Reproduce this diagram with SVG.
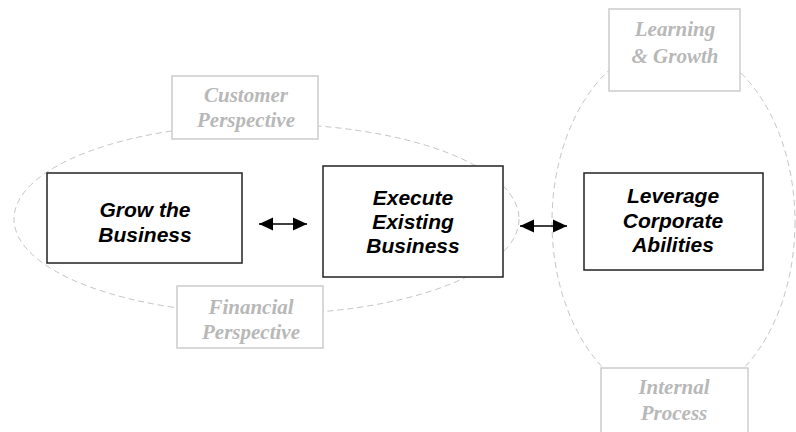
<svg xmlns="http://www.w3.org/2000/svg" width="796" height="432" viewBox="0 0 796 432">
<style>
.oval{fill:none;stroke:#c4c4c4;stroke-width:1;stroke-dasharray:6 4}
.pbox{fill:#fff;stroke:#cccccc;stroke-width:1.5}
.ptxt{font-family:"Liberation Serif","Times New Roman",serif;font-weight:bold;font-style:italic;font-size:21px;fill:#b8b8b8;text-anchor:middle}
.mbox{fill:#fff;stroke:#222;stroke-width:1.5}
.mtxt{font-family:"Liberation Sans",Arial,sans-serif;font-weight:bold;font-style:italic;font-size:21px;fill:#000;text-anchor:middle}
.conn{stroke:#000;stroke-width:1.5;fill:none}
</style>
<defs>
<marker id="ah" markerUnits="userSpaceOnUse" markerWidth="16" markerHeight="14" refX="14" refY="7" orient="auto-start-reverse">
<path d="M0,0.5 L14,7 L0,13.5 Z" fill="#000"/>
</marker>
</defs>
<g id="ovals">
<ellipse class="oval" cx="266.5" cy="219" rx="252.5" ry="95"/>
<ellipse class="oval" cx="673.5" cy="222" rx="121.5" ry="179"/>
</g>
<g id="customer"><rect class="pbox" x="172" y="76" width="146" height="63"/>
<text class="ptxt" x="246" y="102">Customer</text><text class="ptxt" x="246" y="127">Perspective</text></g>
<g id="financial"><rect class="pbox" x="177" y="286" width="146" height="62"/>
<text class="ptxt" x="251" y="314">Financial</text><text class="ptxt" x="251" y="339">Perspective</text></g>
<g id="learning"><rect class="pbox" x="609" y="9" width="131" height="82"/>
<text class="ptxt" x="675" y="36">Learning</text><text class="ptxt" x="675" y="63">&amp; Growth</text></g>
<g id="internal"><rect class="pbox" x="601" y="368" width="147" height="80"/>
<text class="ptxt" x="674" y="394">Internal</text><text class="ptxt" x="674" y="420">Process</text></g>
<g id="grow"><rect class="mbox" x="47" y="173" width="195" height="90"/>
<text class="mtxt" x="145" y="217">Grow the</text><text class="mtxt" x="145" y="242">Business</text></g>
<g id="execute"><rect class="mbox" x="323" y="166" width="180" height="111"/>
<text class="mtxt" x="413" y="205">Execute</text><text class="mtxt" x="413" y="229">Existing</text><text class="mtxt" x="413" y="253">Business</text></g>
<g id="leverage"><rect class="mbox" x="584" y="173" width="179" height="97"/>
<text class="mtxt" x="673" y="203">Leverage</text><text class="mtxt" x="673" y="228">Corporate</text><text class="mtxt" x="673" y="252">Abilities</text></g>
<g id="connectors">
<line class="conn" x1="259" y1="224" x2="307" y2="224" marker-start="url(#ah)" marker-end="url(#ah)"/>
<line class="conn" x1="520" y1="226" x2="567" y2="226" marker-start="url(#ah)" marker-end="url(#ah)"/>
</g>
</svg>
